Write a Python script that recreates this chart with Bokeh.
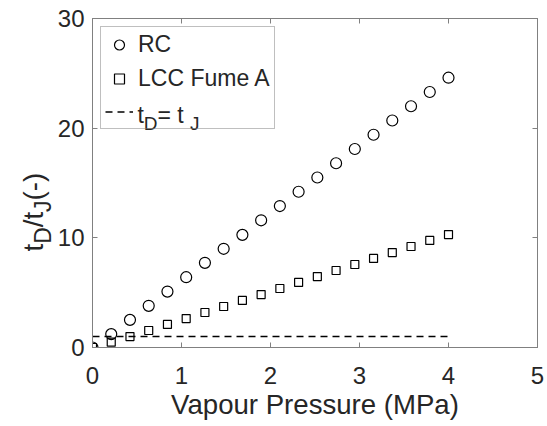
import math
import numpy as np
from bokeh.plotting import figure
from bokeh.layouts import row
from bokeh.models import (LinearAxis, Range1d, FixedTicker, Legend, LegendItem)
from bokeh.core.properties import value
from bokeh.embed import file_html
from bokeh.resources import INLINE

# ---------------- data ----------------
pressure = np.linspace(0, 4, 20).tolist()          # MPa
rc = [0.0, 1.22, 2.52, 3.80, 5.10, 6.41, 7.72, 9.00, 10.27, 11.6,
      12.9, 14.2, 15.5, 16.8, 18.1, 19.4, 20.7, 22.0, 23.3, 24.6]
lcc_fume_a = [0.0, 0.49, 1.00, 1.55, 2.10, 2.64, 3.19, 3.74, 4.29, 4.83,
              5.38, 5.93, 6.47, 7.02, 7.57, 8.12, 8.66, 9.21, 9.76, 10.3]
ref_x = [0, 4]
ref_y = [1, 1]
x_ticks = [0, 1, 2, 3, 4, 5]
y_ticks = [0, 10, 20, 30]
x_label = "Vapour Pressure (MPa)"

FONT = "Liberation Sans"
TXT = "#262626"
AX = "#808080"

W_TOTAL, H_TOTAL = 547, 426
LEFT_W = 54                      # narrow panel holding the rotated y label
FRAME_L, FRAME_R, FRAME_T, FRAME_B = 91, 537, 18, 347
XMIN, XMAX, YMIN, YMAX = 0, 5, 0, 30

p = figure(width=W_TOTAL - LEFT_W, height=H_TOTAL, output_backend="svg", toolbar_location=None,
           x_range=Range1d(XMIN, XMAX), y_range=Range1d(YMIN, YMAX),
           min_border_left=FRAME_L - LEFT_W, min_border_right=W_TOTAL - FRAME_R,
           min_border_top=FRAME_T, min_border_bottom=H_TOTAL - FRAME_B,
           x_axis_label=x_label)
p.grid.visible = False
p.outline_line_color = AX
p.background_fill_color = "white"
p.border_fill_color = "white"

def style_axis(ax, ticks, show_labels=True):
    ax.ticker = FixedTicker(ticks=ticks)
    ax.axis_line_color = AX
    ax.major_tick_line_color = AX
    ax.major_tick_in = 5
    ax.major_tick_out = 0
    ax.minor_tick_line_color = None
    ax.major_label_text_font = FONT
    ax.major_label_text_color = TXT
    if show_labels:
        ax.major_label_text_font_size = "24px"
    else:
        ax.major_label_overrides = {t: "" for t in ticks}
        ax.major_label_text_font_size = "1px"
        ax.major_label_standoff = 0

style_axis(p.xaxis[0], x_ticks)
style_axis(p.yaxis[0], y_ticks)
p.xaxis[0].major_label_standoff = 19
p.yaxis[0].major_label_standoff = 8
p.xaxis[0].axis_label_text_font = FONT
p.xaxis[0].axis_label_text_font_size = "27.6px"
p.xaxis[0].axis_label_text_font_style = "normal"
p.xaxis[0].axis_label_text_color = TXT
p.xaxis[0].axis_label_standoff = 2

top = LinearAxis()
right = LinearAxis()
style_axis(top, x_ticks, False)
style_axis(right, y_ticks, False)
p.add_layout(top, "above")
p.add_layout(right, "right")

r_line = p.line(ref_x, ref_y, line_color="black", line_width=1.6, line_dash="7 5")
r_rc = p.scatter(pressure, rc, marker="circle", size=11, fill_color=None,
                 line_color="black", line_width=1.2)
r_lcc = p.scatter(pressure, lcc_fume_a, marker="square", size=8, fill_color=None,
                  line_color="black", line_width=1.2)

legend = Legend(items=[LegendItem(label="RC", renderers=[r_rc]),
                       LegendItem(label="LCC Fume A", renderers=[r_lcc]),
                       LegendItem(label=" ", renderers=[r_line])],
                location="top_left", margin=8, padding=4, spacing=7,
                glyph_width=28, glyph_height=25, label_standoff=5,
                label_text_font=FONT, label_text_font_size="23px", label_text_color=TXT,
                border_line_color=AX, border_line_width=1,
                background_fill_color="white", background_fill_alpha=0)
p.add_layout(legend)

ADV = {"t": .278, "D": .722, "/": .278, "J": .5, "(": .333, "-": .333, ")": .333,
       "=": .584, " ": .278}

def adv(s, size):
    return sum(ADV.get(c, .5) for c in s) * size

# pixel -> data helpers for the main frame (legend text placement only)
def px2x(px):
    return XMIN + (px - FRAME_L) * (XMAX - XMIN) / (FRAME_R - FRAME_L)

def py2y(py):
    return YMIN + (FRAME_B - py) * (YMAX - YMIN) / (FRAME_B - FRAME_T)

# legend third entry: t_D= t_J
pieces_leg = [("t", 23, 0), ("D", 19, 9), ("= t", 23, 0), (" ", 23, 0), ("J", 19, 9)]
cx, base = 136, 114
for s, size, dy in pieces_leg:
    if s.strip():
        p.text(x=[px2x(cx)], y=[py2y(base + dy)], text=[s],
               text_font=value(FONT), text_font_size=value(f"{size}px"), text_color=TXT,
               text_align="left", text_baseline="alphabetic")
    cx += adv(s, size)

# ---------------- left panel with the y label ----------------
lab = figure(frame_width=LEFT_W, frame_height=H_TOTAL, output_backend="svg",
             toolbar_location=None, title=None,
             x_range=Range1d(0, LEFT_W), y_range=Range1d(0, H_TOTAL),
             x_axis_location=None, y_axis_location=None,
             min_border=0, min_border_left=0, min_border_right=0,
             min_border_top=0, min_border_bottom=0)
lab.grid.visible = False
lab.outline_line_color = None
lab.background_fill_color = "white"
lab.border_fill_color = "white"

pieces_y = [("t", 27.6, 0), ("D", 23, 9), ("/", 27.6, 0), ("t", 27.6, 0), ("J", 23, 9), ("(-)", 27.6, 0)]
cy, bx = 233, 33
for s, size, dx in pieces_y:
    lab.text(x=[bx + dx], y=[H_TOTAL - cy], text=[s], angle=math.pi / 2,
             text_font=value(FONT), text_font_size=value(f"{size}px"), text_color=TXT,
             text_align="left", text_baseline="alphabetic")
    cy -= adv(s, size)

layout = row(lab, p, spacing=0)
open("out.html", "w").write(file_html(layout, INLINE))
